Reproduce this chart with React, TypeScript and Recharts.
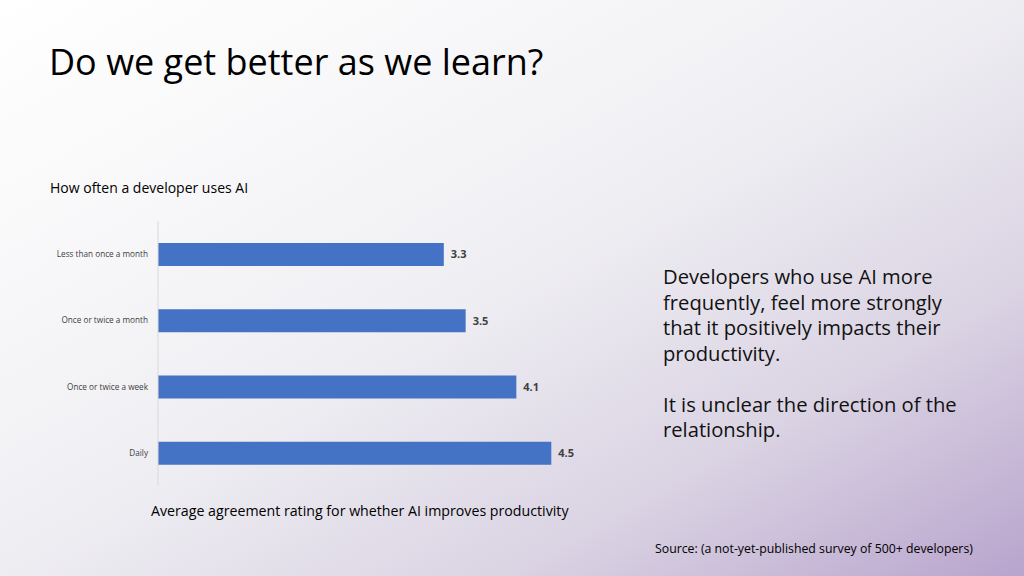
import React from "react";
import { BarChart, Bar, XAxis, YAxis, LabelList } from "recharts";

const categories = [
  "Less than once a month",
  "Once or twice a month",
  "Once or twice a week",
  "Daily",
];
const ratings = [3.27, 3.52, 4.1, 4.5];
const xDomain = [0, 5];

const titleText = "Do we get better as we learn?";
const yAxisTitle = "How often a developer uses AI";
const xAxisTitle = "Average agreement rating for whether AI improves productivity";
const bodyParagraph1 = [
  "Developers who use AI more",
  "frequently, feel more strongly",
  "that it positively impacts their",
  "productivity.",
];
const bodyParagraph2 = ["It is unclear the direction of the", "relationship."];
const sourceText = "Source: (a not-yet-published survey of 500+ developers)";

const data = categories.map((c, i) => ({ category: c, rating: ratings[i] }));

const FONT = "'Open Sans', 'Noto Sans', sans-serif";

export default function App() {
  return (
    <div
      style={{
        position: "absolute",
        left: 0,
        top: 0,
        width: 1024,
        height: 576,
        overflow: "hidden",
        fontFamily: FONT,
        color: "#000",
        background:
          "linear-gradient(to bottom right, #ffffff 0%, #f6f6f8 30%, #eeedf2 50%, #dad3e3 75%, #b8a4cd 100%)",
      }}
    >
      <div
        style={{
          position: "absolute",
          left: 49,
          top: 38,
          fontSize: 36,
          lineHeight: "48px",
          whiteSpace: "nowrap",
        }}
      >
        {titleText}
      </div>
      <div
        style={{
          position: "absolute",
          left: 50,
          top: 178,
          fontSize: 14,
          lineHeight: "20px",
          whiteSpace: "nowrap",
        }}
      >
        {yAxisTitle}
      </div>
      <div style={{ position: "absolute", left: 0, top: 0 }}>
        <BarChart
          width={640}
          height={576}
          data={data}
          layout="vertical"
          margin={{ top: 221, right: 45, bottom: 90, left: 0 }}
        >
          <XAxis type="number" domain={xDomain} hide />
          <YAxis
            type="category"
            dataKey="category"
            width={158}
            interval={0}
            tickLine={false}
            tickMargin={4}
            axisLine={{ stroke: "#d9d9d9" }}
            tick={{ fontSize: 8.2, fill: "#404040", fontFamily: FONT }}
          />
          <Bar dataKey="rating" fill="#4472c4" barSize={23} isAnimationActive={false}>
            <LabelList
              dataKey="rating"
              position="right"
              offset={7}
              formatter={(v: number) => v.toFixed(1)}
              style={{ fontSize: 11, fontWeight: 700, fill: "#404040", fontFamily: FONT }}
            />
          </Bar>
        </BarChart>
      </div>
      <div
        style={{
          position: "absolute",
          left: 151,
          top: 501,
          fontSize: 14.2,
          lineHeight: "20px",
          whiteSpace: "nowrap",
        }}
      >
        {xAxisTitle}
      </div>
      <div
        style={{
          position: "absolute",
          left: 663,
          top: 264,
          fontSize: 20.2,
          lineHeight: "25.5px",
          whiteSpace: "nowrap",
          color: "#111",
        }}
      >
        {bodyParagraph1.map((l) => (
          <div key={l}>{l}</div>
        ))}
        <div style={{ height: 25.5 }} />
        {bodyParagraph2.map((l) => (
          <div key={l}>{l}</div>
        ))}
      </div>
      <div
        style={{
          position: "absolute",
          left: 655,
          top: 540,
          fontSize: 12.3,
          lineHeight: "18px",
          whiteSpace: "nowrap",
        }}
      >
        {sourceText}
      </div>
    </div>
  );
}
